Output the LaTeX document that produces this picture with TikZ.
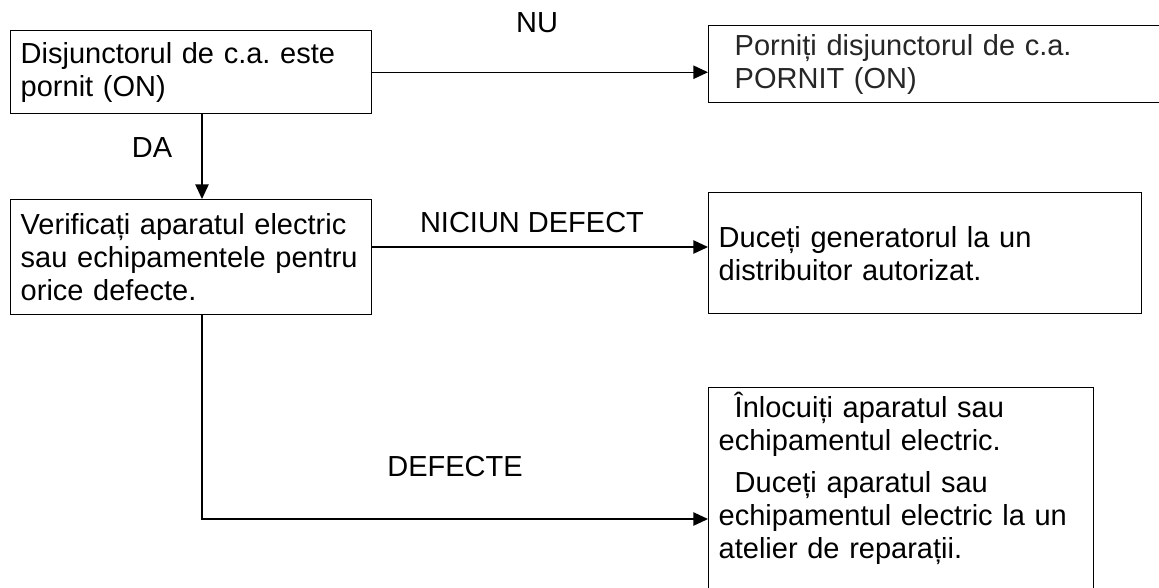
\documentclass[tikz,border=0pt]{standalone}
\usepackage{fontspec}
\setmainfont{Liberation Sans}
\usetikzlibrary{arrows.meta,positioning}
\frenchspacing

\begin{document}
\begin{tikzpicture}[x=0.75pt,y=-0.75pt,
   font=\fontsize{21.75}{24.75}\selectfont,
   decbox/.style={draw,line width=1.1pt,rectangle,anchor=north west,
      align=left,inner xsep=7.5pt},
   flow/.style={line width=1.1pt,-{Triangle[length=11pt,width=10pt]}}]
\useasboundingbox (0,0) rectangle (1159,587);
\node[decbox,text width=360pt,minimum height=57.75pt,text=black!85] (restart) at (708,25)
   {\hspace*{12pt}Porniți disjunctorul de c.a.\\\hspace*{12pt}PORNIT (ON)};
\node[decbox,text width=255.75pt,minimum height=62.25pt] (breaker) at (10,30)
   {Disjunctorul de c.a. este\\pornit (ON)};
\node[decbox,text width=255.75pt,minimum height=86.25pt] (check) at (10,199)
   {Verificați aparatul electric\\sau echipamentele pentru\\orice defecte.};
\node[decbox,text width=309.75pt,minimum height=90.75pt] (dealer) at (708,192)
   {Duceți generatorul la un\\distribuitor autorizat.};
\node[decbox,text width=273.75pt,text depth=150pt] (repair) at (708,387)
   {\hspace*{12pt}Înlocuiți aparatul sau\\echipamentul electric.\\[7pt]
    \hspace*{12pt}Duceți aparatul sau\\echipamentul electric la un\\atelier de reparații.};
\coordinate (spine) at (202,0);
\coordinate (okrow) at (0,247);
\coordinate (faultrow) at (0,519);
\draw[flow] (breaker.east) -- (breaker.east -| restart.west);
\draw[flow] (breaker.south -| spine) -- (check.north -| spine);
\draw[flow] (check.east |- okrow) -- (dealer.west |- okrow);
\draw[flow] (check.south -| spine) |- (repair.west |- faultrow);
\node (nu) at (537,23) {NU};
\node (da) at (152,148) {DA};
\node (ok) at (532,223) {NICIUN DEFECT};
\node (fault) at (455,467) {DEFECTE};
\end{tikzpicture}
\end{document}
